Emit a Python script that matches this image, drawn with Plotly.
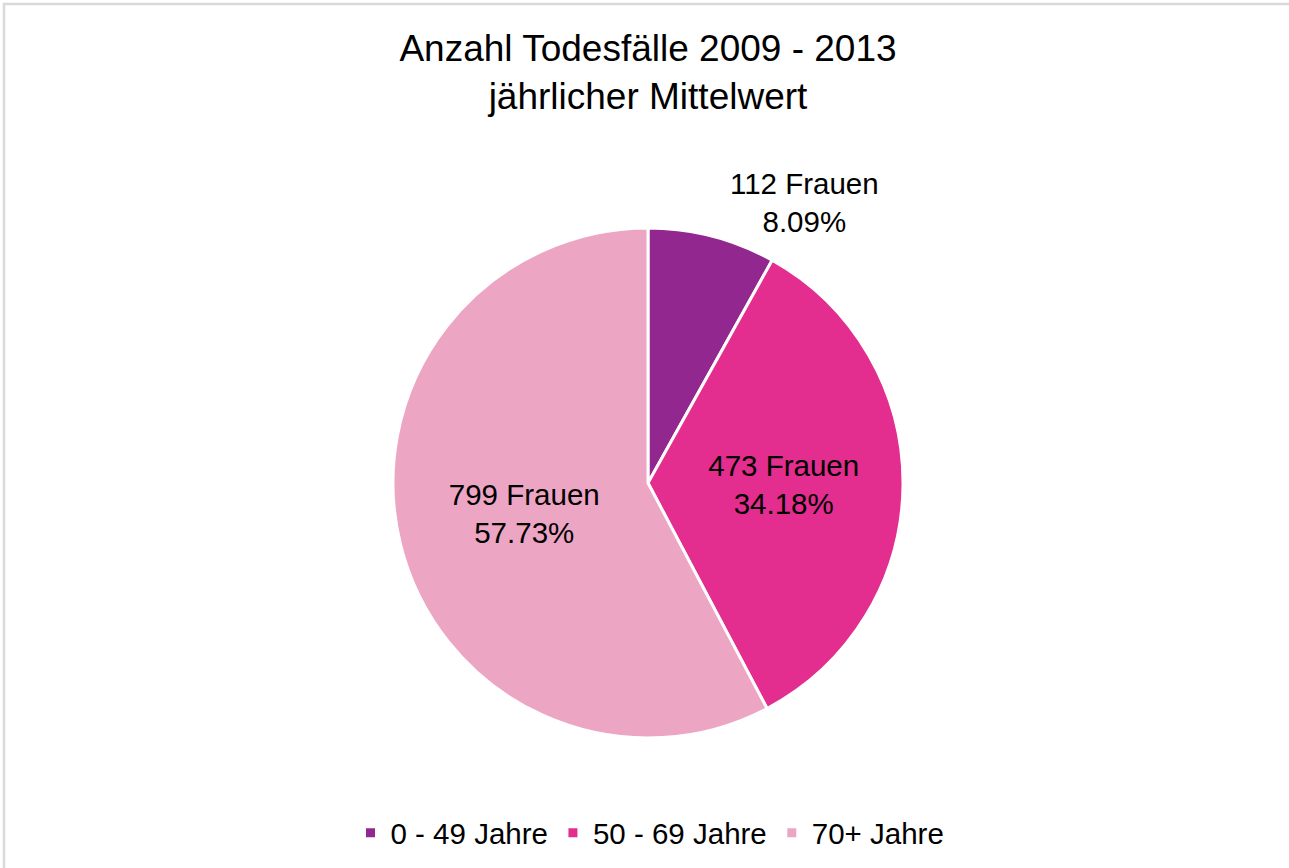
import plotly.graph_objects as go

categories = ["0 - 49 Jahre", "50 - 69 Jahre", "70+ Jahre"]
values = [112, 473, 799]
colors = ["#92278F", "#E32D8F", "#EDA5C4"]
text_positions = ["outside", "inside", "inside"]

W, H = 1289, 868
cx, cy, r = 648, 483, 255

fig = go.Figure(go.Pie(
    labels=categories,
    values=values,
    sort=False,
    direction="clockwise",
    rotation=0,
    marker=dict(colors=colors, line=dict(color="white", width=3)),
    texttemplate="%{value} Frauen<br>%{percent:.2%}",
    textposition=text_positions,
    insidetextorientation="horizontal",
    textfont=dict(family="Liberation Sans, Arial, sans-serif", size=29.5, color="black"),
    hoverinfo="label+value+percent",
    domain=dict(x=[(cx - r) / W, (cx + r) / W], y=[1 - (cy + r) / H, 1 - (cy - r) / H]),
))

fig.update_layout(
    width=W, height=H,
    margin=dict(l=0, r=0, t=0, b=0),
    paper_bgcolor="white",
    plot_bgcolor="white",
    font=dict(family="Liberation Sans, Arial, sans-serif", color="black"),
    title=dict(
        text="Anzahl Todesfälle 2009 - 2013<br>jährlicher Mittelwert",
        font=dict(size=37, color="black"),
        x=648 / W, xanchor="center",
        y=1 - 61 / H, yanchor="top", yref="container",
    ),
    showlegend=True,
    legend=dict(
        orientation="h",
        x=650 / W, xanchor="center",
        y=1 - 833 / H, yanchor="middle",
        font=dict(size=29.5, color="black"),
        itemclick=False,
    ),
    shapes=[dict(
        type="rect", xref="paper", yref="paper",
        x0=4 / W, x1=1.05, y0=-0.05, y1=1 - 4 / H,
        line=dict(color="#D9D9D9", width=2.5),
        fillcolor="rgba(0,0,0,0)",
        layer="below",
    )],
)

fig.write_html(
    "out.html",
    config={"displayModeBar": False},
    post_script="document.body.style.margin='0';document.body.style.overflow='hidden';",
)
